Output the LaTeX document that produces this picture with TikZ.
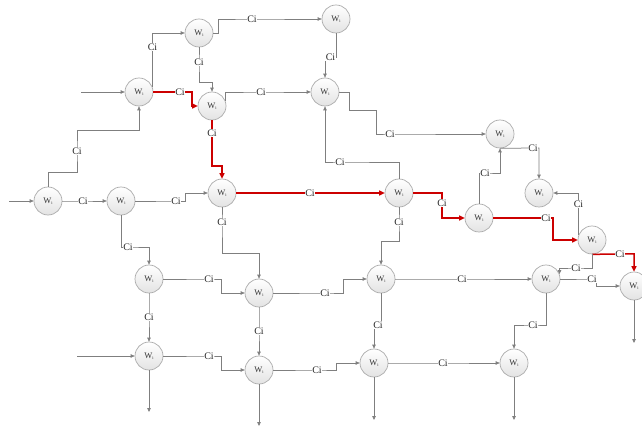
\documentclass[tikz,border=0pt]{standalone}
\usepackage{fontspec}
\setmainfont{Liberation Serif}
\usetikzlibrary{arrows.meta}
\definecolor{lgray}{HTML}{7F7F7F}
\definecolor{lred}{HTML}{CC0000}
\newcommand\wsub{W\raisebox{-0.35ex}{\fontsize{4.5}{5}\selectfont i}}
\begin{document}
\begin{tikzpicture}[x=1pt,y=-1pt,
  wn/.style={circle, minimum size=28pt, inner sep=0pt, draw=gray!65, line width=0.7pt,
    top color=white, bottom color=gray!22, font=\fontsize{8.5}{9}\selectfont, text=black!80},
  e/.style={draw=lgray, line width=0.75pt, -{Triangle[length=4pt,width=3.5pt]}},
  r/.style={draw=lred, line width=1.5pt, -{Triangle[length=5.5pt,width=5pt]}},
  lab/.style={fill=white, inner sep=0.6pt, font=\fontsize{10}{11}\selectfont, text=black!85}
]
\clip (0,0) rectangle (642,430);
\fill[white] (0,0) rectangle (642,430);
% nodes
\node[wn] (A) at (48,201) {\wsub};
\node[wn] (B) at (121,201) {\wsub};
\node[wn] (C) at (139,92) {\wsub};
\node[wn] (D) at (199,33) {\wsub};
\node[wn] (E) at (212,106) {\wsub};
\node[wn] (F) at (336,19) {\wsub};
\node[wn] (G) at (325,92) {\wsub};
\node[wn] (H) at (222,193) {\wsub};
\node[wn] (I) at (399,193) {\wsub};
\node[wn] (J) at (500,134) {\wsub};
\node[wn] (K) at (539,193) {\wsub};
\node[wn] (L) at (479,218) {\wsub};
\node[wn] (M) at (592,240) {\wsub};
\node[wn] (N) at (634,286) {\wsub};
\node[wn] (O) at (149,279) {\wsub};
\node[wn] (P) at (259,293) {\wsub};
\node[wn] (Q) at (381,279) {\wsub};
\node[wn] (R) at (546,279) {\wsub};
\node[wn] (S) at (149,356) {\wsub};
\node[wn] (T) at (259,370) {\wsub};
\node[wn] (U) at (374,363) {\wsub};
\node[wn] (V) at (514,363) {\wsub};
% free ends
\coordinate (inA) at (9,201);
\coordinate (inC) at (81,92);
\coordinate (inS) at (77,356);
\coordinate (outS) at (149,412);
\coordinate (outT) at (259,426);
\coordinate (outU) at (374,420);
\coordinate (outV) at (514,420);
\coordinate (outN) at (634,343);
% connectors
\draw[e] (inA) -- (A);
\draw[e] (A) -- (83,201) node[lab]{Ci} -- (B);
\draw[e] (A.north) -- (48,172) -- (77,172) -- (77,151) node[lab]{Ci} -- (77,130) -| (C.south);
\draw[e] (inC) -- (C);
\draw[e] (C.20) -- (C.20 |- 0,47) node[lab]{Ci} |- (D.west);
\draw[e] (D.east) -- (218,33) -- (218,19) -- (252,19) node[lab]{Ci} -- (F.west);
\draw[e] (D.south) -- (199,62) node[lab]{Ci} -- (199,82) -| (E.north);
\draw[r] (C.east) -- (180,92) node[lab]{Ci} -- (192,92) |- (E.west);
\draw[r] (E.south) -- (212,133) node[lab]{Ci} -- (212,166) -| (H.north);
\draw[e] (F.south) -- (336,57) -- (330.5,57) node[lab]{Ci} -- (325,57) -- (G.north);
\draw[e] (E.20) |- (261,92) node[lab]{Ci} -- (G.west);
\draw[e] (G.east) -- (349,92) -- (349,110) -- (376,110) -- (376,134) -- (390,134) node[lab]{Ci} -- (J.west);
\draw[e] (I.north) -- (399,162) -- (340,162) node[lab]{Ci} -| (G.south);
\draw[e] (B) -- (176,201) node[lab]{Ci} -- (185,201) |- (H.west);
\draw[r] (H) -- (310,193) node[lab]{Ci} -- (I);
\draw[r] (I.east) -- (442,193) -- (442,203) node[lab]{Ci} |- (L.west);
\draw[e] (I.south) -- (399,222) node[lab]{Ci} -- (399,241) -| (Q.north);
\draw[e] (L.north) -- (479,173) -- (485,173) node[lab]{Ci} -| (J.south);
\draw[e] (J.south) -- (533,148) node[lab]{Ci} -| (K.north);
\draw[e] (M.160) -- (M.160 |- 0,204) node[lab]{Ci} |- (K.east);
\draw[r] (L.east) -- (546,218) node[lab]{Ci} -- (553,218) |- (M.west);
\draw[r] (M.south) -- (620,254) node[lab]{Ci} -| (N.north);
\draw[e] (M.south) -- (592,268) -- (576,268) node[lab]{Ci} -- (R.20 |- 0,268) -- (R.20);
\draw[e] (R.east) -- (592,279) node[lab]{Ci} -- (596,279) |- (N.west);
\draw[e] (N.south) -- (outN);
\draw[e] (Q) -- (462,279) node[lab]{Ci} -- (R);
\draw[e] (P.east) -- (325,293) node[lab]{Ci} -- (343,293) |- (Q.west);
\draw[e] (Q.south) -- (381,325) -- (378,325) node[lab]{Ci} -- (374,325) -- (U.north);
\draw[e] (R.south) -- (546,325) -- (533,325) node[lab]{Ci} -| (V.north);
\draw[e] (U) -- (443,363) node[lab]{Ci} -- (V);
\draw[e] (T.east) -- (317,370) node[lab]{Ci} -- (336,370) |- (U.west);
\draw[e] (U.south) -- (outU);
\draw[e] (V.south) -- (outV);
\draw[e] (B.south) -- (121,247) -- (128,247) node[lab]{Ci} -| (O.north);
\draw[e] (H.south) -- (222,222) node[lab]{Ci} -- (222,253) -| (P.north);
\draw[e] (O.east) -- (209,279) node[lab]{Ci} -- (221,279) |- (P.west);
\draw[e] (O) -- (149,317) node[lab]{Ci} -- (S);
\draw[e] (P) -- (259,331) node[lab]{Ci} -- (T);
\draw[e] (inS) -- (S);
\draw[e] (S.east) -- (209,356) node[lab]{Ci} -- (221,356) |- (T.west);
\draw[e] (S.south) -- (outS);
\draw[e] (T.south) -- (outT);
\end{tikzpicture}
\end{document}
